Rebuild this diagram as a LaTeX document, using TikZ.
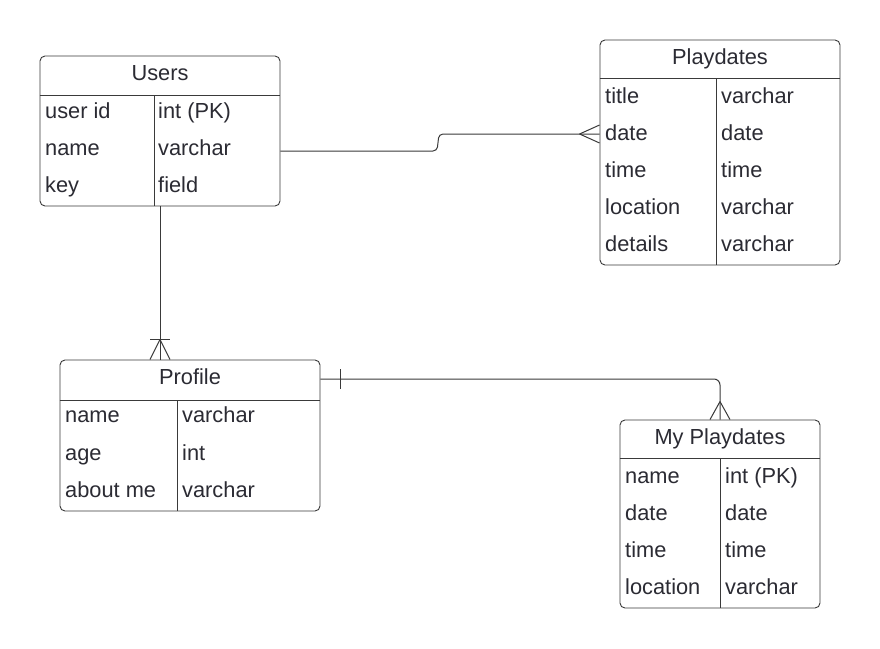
\documentclass[tikz,border=0pt]{standalone}
\usepackage{fontspec}
\setmainfont{Liberation Sans}
\definecolor{erline}{HTML}{3A3A3A}
\definecolor{ertext}{HTML}{2B2B33}
\tikzset{
  erbox/.style={draw=erline, line width=0.9pt, rounded corners=5pt, inner sep=0pt},
  errule/.style={draw=erline, line width=0.9pt},
  erlink/.style={draw=erline, line width=1pt},
  fieldtext/.style={anchor=base west, inner sep=0pt, text=ertext, font=\fontsize{21.8}{26}\selectfont},
  titletext/.style={anchor=base, inner sep=0pt, text=ertext, font=\fontsize{21.8}{26}\selectfont}
}
\begin{document}
\begin{tikzpicture}[x=1pt,y=-1pt]
\useasboundingbox[fill=white] (0,0) rectangle (880,648);

% Table Users
\node[erbox, minimum width=240pt, minimum height=150pt] (users) at (160,131) {};
\draw[errule] (users.west |- 0,95) -- (users.east |- 0,95);
\draw[errule] (154,95) -- (users.south -| 154,0);
\node[titletext] (users title) at (160,80) {Users};
\node[fieldtext] (users f1) at (45,118) {user id};
\node[fieldtext] (users t1) at (158,118) {int (PK)};
\node[fieldtext] (users f2) at (45,155) {name};
\node[fieldtext] (users t2) at (158,155) {varchar};
\node[fieldtext] (users f3) at (45,192) {key};
\node[fieldtext] (users t3) at (158,192) {field};

% Table Playdates
\node[erbox, minimum width=240pt, minimum height=225pt] (play) at (720,152.5) {};
\draw[errule] (play.west |- 0,78) -- (play.east |- 0,78);
\draw[errule] (716,78) -- (play.south -| 716,0);
\node[titletext] (play title) at (720,64) {Playdates};
\node[fieldtext] (play f1) at (605,103) {title};
\node[fieldtext] (play t1) at (721,103) {varchar};
\node[fieldtext] (play f2) at (605,140) {date};
\node[fieldtext] (play t2) at (721,140) {date};
\node[fieldtext] (play f3) at (605,177) {time};
\node[fieldtext] (play t3) at (721,177) {time};
\node[fieldtext] (play f4) at (605,214) {location};
\node[fieldtext] (play t4) at (721,214) {varchar};
\node[fieldtext] (play f5) at (605,251) {details};
\node[fieldtext] (play t5) at (721,251) {varchar};

% Table Profile
\node[erbox, minimum width=260pt, minimum height=151pt] (profile) at (190,435.5) {};
\draw[errule] (profile.west |- 0,400) -- (profile.east |- 0,400);
\draw[errule] (177,400) -- (profile.south -| 177,0);
\node[titletext] (profile title) at (190,384) {Profile};
\node[fieldtext] (profile f1) at (65,422) {name};
\node[fieldtext] (profile t1) at (182,422) {varchar};
\node[fieldtext] (profile f2) at (65,460) {age};
\node[fieldtext] (profile t2) at (182,460) {int};
\node[fieldtext] (profile f3) at (65,497) {about me};
\node[fieldtext] (profile t3) at (182,497) {varchar};

% Table My Playdates
\node[erbox, minimum width=200pt, minimum height=188pt] (myplay) at (720,514) {};
\draw[errule] (myplay.west |- 0,458) -- (myplay.east |- 0,458);
\draw[errule] (720,458) -- (myplay.south -| 720,0);
\node[titletext] (myplay title) at (720,444) {My Playdates};
\node[fieldtext] (myplay f1) at (625,483) {name};
\node[fieldtext] (myplay t1) at (725,483) {int (PK)};
\node[fieldtext] (myplay f2) at (625,520) {date};
\node[fieldtext] (myplay t2) at (725,520) {date};
\node[fieldtext] (myplay f3) at (625,557) {time};
\node[fieldtext] (myplay t3) at (725,557) {time};
\node[fieldtext] (myplay f4) at (625,594) {location};
\node[fieldtext] (myplay t4) at (725,594) {varchar};

% Link Users - Playdates (one to many)
\coordinate (users out) at (users.east |- 0,151);
\coordinate (play in) at (play.west |- 0,134);
\draw[erlink, rounded corners=4pt] (users out) -- (437,151) -- (439,134) -- (play in);
\draw[erlink] (play in) ++(-20,0) -- ++(20,-9);
\draw[erlink] (play in) ++(-20,0) -- ++(20,9);

% Link Users - Profile (one or many)
\coordinate (profile in) at (users.south |- profile.north);
\draw[erlink] (users.south) -- (profile in);
\draw[erlink] (profile in) ++(-10,-20) -- ++(20,0);
\draw[erlink] (profile in) ++(0,-20) -- ++(-10,20);
\draw[erlink] (profile in) ++(0,-20) -- ++(10,20);

% Link Profile - My Playdates (one to many)
\coordinate (profile out) at (profile.east |- 0,379);
\draw[erlink, rounded corners=6pt] (profile out) -| (myplay.north);
\draw[erlink] (profile out) ++(20,-10) -- ++(0,20);
\draw[erlink] (myplay.north) ++(0,-18) -- ++(-10,18);
\draw[erlink] (myplay.north) ++(0,-18) -- ++(10,18);
\end{tikzpicture}
\end{document}
